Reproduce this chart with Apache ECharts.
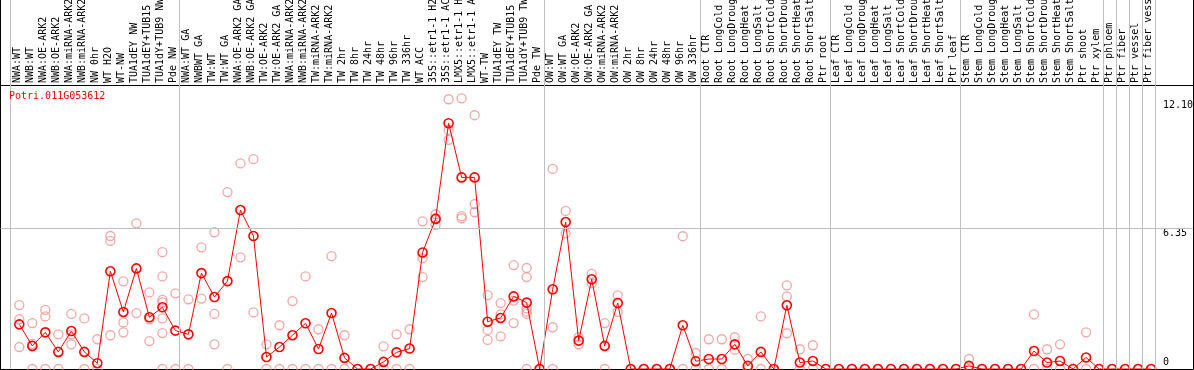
<!DOCTYPE html>
<html>
<head>
<meta charset="utf-8">
<script src="https://cdn.jsdelivr.net/npm/echarts@6/dist/echarts.min.js"></script>
<style>html,body{margin:0;padding:0;background:#fff}#c{width:1194px;height:370px}</style>
</head>
<body>
<div id="c"></div>
<script>
const geneName = 'Potri.011G053612';
const categories = [
 'NWA:WT','NWB:WT','NWA:OE-ARK2','NWB:OE-ARK2','NWA:miRNA-ARK2','NWB:miRNA-ARK2','NW 0hr','WT H2O','WT-NW','TUA1dEY NW','TUA1dEY+TUB15','TUA1dY+TUB9 NW','Pde NW',
 'NWA:WT GA','NWBWT GA','TW:WT','TW:WT GA','NWA:OE-ARK2 GA','NWB:OE-ARK2 GA','TW:OE-ARK2','TW:OE-ARK2 GA','NWA:miRNA-ARK2','NWB:miRNA-ARK2','TW:miRNA-ARK2','TW:miRNA-ARK2',
 'TW 2hr','TW 8hr','TW 24hr','TW 48hr','TW 96hr','TW 336hr','WT ACC','35S::etr1-1 H2','35S::etr1-1 AC','LMX5::etr1-1 H','LMX5::etr1-1 A','WT-TW','TUA1dEY TW','TUA1dEY+TUB15','TUA1dY+TUB9 TW','Pde TW',
 'OW:WT','OW:WT GA','OW:OE-ARK2','OW:OE-ARK2 GA','OW:miRNA-ARK2','OW:miRNA-ARK2','OW 2hr','OW 8hr','OW 24hr','OW 48hr','OW 96hr','OW 336hr',
 'Root CTR','Root LongCold','Root LongDroug','Root LongHeat','Root LongSalt','Root ShortCold','Root ShortDrou','Root ShortHeat','Root ShortSalt','Ptr root',
 'Leaf CTR','Leaf LongCold','Leaf LongDroug','Leaf LongHeat','Leaf LongSalt','Leaf ShortCold','Leaf ShortDrou','Leaf ShortHeat','Leaf ShortSalt','Ptr leaf',
 'Stem CTR','Stem LongCold','Stem LongDroug','Stem LongHeat','Stem LongSalt','Stem ShortCold','Stem ShortDrou','Stem ShortHeat','Stem ShortSalt','Ptr shoot',
 'Ptr xylem','Ptr phloem','Ptr fiber','Ptr vessel','Ptr fiber vess'
];
const meanValues = [
 2.01,1.04,1.65,0.77,1.71,0.77,0.26,4.40,2.57,4.53,2.33,2.78,1.73,
 1.56,4.32,3.24,3.96,7.16,5.99,0.54,0.99,1.52,2.06,0.90,2.52,
 0.50,0,0,0.32,0.75,0.92,5.25,6.76,11.07,8.63,8.63,2.13,2.30,3.27,2.99,0,
 3.59,6.62,1.28,4.04,1.04,2.97,0,0,0,0,1.97,0.35,
 0.45,0.45,1.11,0.14,0.77,0,2.87,0.29,0.36,0,
 0,0,0,0,0,0,0,0,0,0,
 0.14,0,0,0,0,0.81,0.29,0.36,0,0.52,
 0,0,0,0,0
];
const replicateValues = [
 [2.88,2.24,0.99],[2.07,1.13,0],[2.66,2.37,0],[1.56,0],[2.48,1.56,1.11],[2.28,0],[1.34,0],[5.99,5.77,1.52],[3.95,2.10,1.65],[6.56,2.52],[3.45,2.24,1.26],[5.26,4.17,3.11,3.00,2.28,1.62,0],[3.41,0],
 [3.14,0],[5.48,3.17],[6.16,2.48,1.11],[7.97,0],[9.26,5.03],[9.45,2.55],[1.11,0],[1.97,0],[3.06,0],[4.17,0],[1.79,0],[5.08,0],
 [1.52,0],[0],[0],[1.02,0],[1.56,0],[1.79,0],[6.65,4.99,4.14],[6.97,6.80,6.49],[12.15,10.77,10.32],[12.19,6.89,6.79],[11.43,7.43,7.06],[3.33,1.76,1.31],[2.97,2.46,1.47],[4.68,3.08,2.07],[4.55,4.14,2.73,2.58,2.48,0],[0],
 [9.01,1.88,0],[7.12,6.11],[1.43,1.11],[4.28,3.86],[2.07,0],[3.32,2.57],[0],[0],[0],[0],[5.98,0],[0.72,0],
 [1.34,0],[1.34,0],[1.43,0.87],[0.45,0],[2.37,0],[0],[3.77,3.27,1.61],[0.89,0],[1.07,0],[0],
 [0],[0],[0],[0],[0],[0],[0],[0],[0],[0],
 [0.45,0],[0],[0],[0],[0],[2.46,0],[0.89,0],[1.11,0],[0],[1.65,0],
 [0],[0],[0],[0],[0]
];
const yTickValues = [6.35, 12.1];
const groupStarts = [0, 13, 41, 53, 63, 73, 84, 85, 86, 87, 88];

const FONT = 'DejaVu Sans Mono';
const meanPoints = meanValues.map((v, i) => [i, v]);
const repPoints = [];
replicateValues.forEach((arr, i) => arr.forEach(v => repPoints.push([i, v])));

const chart = echarts.init(document.getElementById('c'), null, {renderer: 'canvas'});
chart.setOption({
  animation: false,
  backgroundColor: '#fff',
  title: {
    text: geneName, left: 9, top: 91, padding: 0,
    textStyle: {fontFamily: FONT, fontSize: 10, fontWeight: 'normal', color: '#ff0000'}
  },
  grid: [
    {left: 0.5, right: 1, top: 0, bottom: 1, containLabel: false, outerBoundsMode: 'none'},
    {left: 10.5, width: 1144.9, top: 85, height: 284, containLabel: false, outerBoundsMode: 'none'}
  ],
  xAxis: [
    {type: 'value', gridIndex: 0, min: -1.445, max: 90.22, position: 'bottom',
     axisLine: {show: true, onZero: false, lineStyle: {color: '#000', width: 1}},
     axisTick: {show: false}, axisLabel: {show: false}, splitLine: {show: false}},
    {type: 'category', gridIndex: 1, position: 'top', data: categories, boundaryGap: true,
     axisLine: {show: false}, axisTick: {show: false}, splitLine: {show: false},
     axisLabel: {interval: 0, rotate: 90, margin: 2, fontFamily: FONT, fontSize: 10, color: '#000'}}
  ],
  yAxis: [
    {type: 'value', gridIndex: 0, min: 0, max: 16.62, position: 'left',
     axisLine: {show: true, onZero: false, lineStyle: {color: '#000', width: 1}},
     axisTick: {show: false}, axisLabel: {show: false}, splitLine: {show: false}},
    {type: 'value', gridIndex: 0, min: 0, max: 16.62, position: 'right',
     axisLine: {show: true, onZero: false, lineStyle: {color: '#000', width: 1}},
     axisTick: {show: false}, splitLine: {show: false},
     axisLabel: {inside: true, customValues: yTickValues, formatter: v => v.toFixed(2),
       align: 'left', verticalAlign: 'top', margin: 30, fontFamily: FONT, fontSize: 10, color: '#000'}},
    {type: 'value', gridIndex: 0, min: 0, max: 16.62, position: 'right',
     axisLine: {show: false}, axisTick: {show: false}, splitLine: {show: false},
     axisLabel: {inside: true, customValues: [0], formatter: v => String(v),
       align: 'left', verticalAlign: 'bottom', margin: 30, fontFamily: FONT, fontSize: 10, color: '#000', padding: [0,0,2,0]}},
    {type: 'value', gridIndex: 1, show: false}
  ],
  series: [
    {
      type: 'scatter', xAxisIndex: 0, yAxisIndex: 0, z: 2,
      data: repPoints, symbol: 'circle', symbolSize: 9,
      itemStyle: {color: 'rgba(0,0,0,0)', borderColor: '#f09090', borderWidth: 1.3},
      markLine: {
        silent: true, symbol: 'none', animation: false,
        label: {show: false},
        data: [
          {yAxis: 6.35, lineStyle: {color: '#c0c0c0', width: 1, type: 'solid'}},
          {yAxis: 12.793, lineStyle: {color: '#000', width: 1, type: 'solid'}}
        ].concat(groupStarts.map(g => ({xAxis: g - 0.67, lineStyle: {color: '#c0c0c0', width: 1, type: 'solid'}})))
      }
    },
    {
      type: 'line', xAxisIndex: 0, yAxisIndex: 0, z: 3,
      data: meanPoints, symbol: 'circle', symbolSize: 9, showAllSymbol: true,
      lineStyle: {color: '#ff0000', width: 1},
      itemStyle: {color: 'rgba(0,0,0,0)', borderColor: '#ff0000', borderWidth: 1.6}
    }
  ]
});
</script>
</body>
</html>
